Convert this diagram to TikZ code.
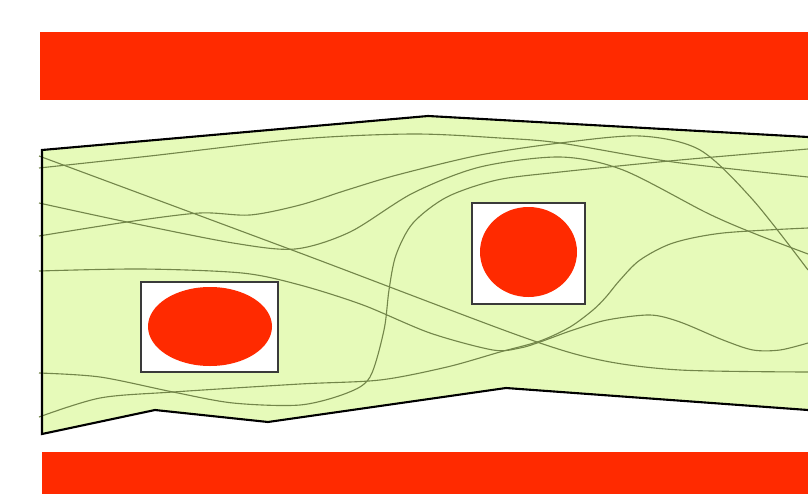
\documentclass[tikz,border=0pt]{standalone}
\usetikzlibrary{calc}
\definecolor{barred}{HTML}{FF2A00}
\definecolor{channel}{HTML}{E6FAB9}
\definecolor{stream}{HTML}{73864A}
\definecolor{ink}{HTML}{000000}
\definecolor{boxline}{HTML}{3A3A3A}
\tikzset{
  bar/.style={fill=barred,draw=none},
  wall/.style={draw=ink,line width=1.8pt,line join=miter},
  streamline/.style={draw=stream,line width=.95pt},
  obstacle/.style={draw=boxline,line width=.9pt,fill=white},
  blob/.style={fill=barred,draw=none},
}
\begin{document}
\begin{tikzpicture}[x=.3mm,y=-.3mm]
\useasboundingbox (0,0) rectangle (808,494);
% plates
\fill[bar] (40,32) rectangle (808,100);
\fill[bar] (42,452) rectangle (808,494);
% channel
\fill[channel] (42,150) -- (428,116) -- (808,137) -- (808,410) -- (506,388)
  -- (268,422) -- (155,410) -- (42,434) -- cycle;
% streamlines
\draw[streamline] plot[smooth] coordinates {(39,156) (300,253) (520,336) (600,360) (680,370) (808,372)};
\draw[streamline] plot[smooth] coordinates {(39,168) (150,156) (300,139) (413,134) (500,138) (560,143) (673,162) (808,177)};
\draw[streamline] plot[smooth] coordinates {(39,203) (127,222) (233,243) (295,249) (350,232) (413,193) (480,167) (560,157) (623,170) (707,213) (753,233) (808,254)};
\draw[streamline] plot[smooth] coordinates {(39,236) (127,222) (200,213) (250,215) (300,205) (347,190) (397,175) (480,155) (560,143) (640,136) (700,150) (753,200) (808,270)};
\draw[streamline] plot[smooth] coordinates {(39,271) (142,269) (242,273) (300,285) (363,305) (430,333) (493,350) (520,348) (540,342) (573,330) (607,320) (650,315) (680,322) (723,340) (753,350) (780,350) (808,343)};
\draw[streamline] plot[smooth] coordinates {(39,373) (100,377) (173,392) (233,403) (300,405) (347,393) (370,377) (384,330) (389,290) (396,255) (413,223) (447,197) (497,180) (560,172) (680,160) (808,149)};
\draw[streamline] plot[smooth] coordinates {(39,417) (100,398) (173,392) (300,384) (380,380) (447,367) (500,352) (540,341) (570,327) (593,310) (606,297) (620,280) (640,260) (673,243) (723,233) (808,228)};
% channel walls
\draw[wall] (808,137) -- (428,116) -- (42,150) -- (42,434) -- (155,410)
  -- (268,422) -- (506,388) -- (808,410);
% obstacles
\draw[obstacle] (141,282) rectangle (278,372);
\fill[blob] (210,326.5) ellipse [x radius=62, y radius=39.5];
\draw[obstacle] (472,203) rectangle (585,304);
\fill[blob] (528.5,252) ellipse [x radius=48.5, y radius=45];
\end{tikzpicture}
\end{document}
